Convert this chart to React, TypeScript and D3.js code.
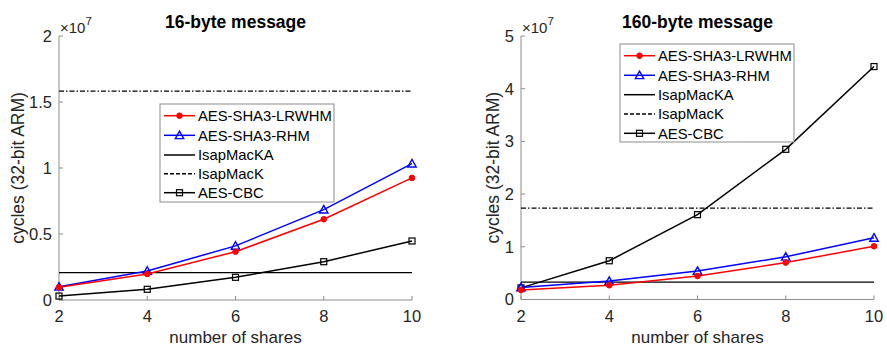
import React from 'react';
import * as d3 from 'd3';

const shares = [2, 4, 6, 8, 10];

// 16-byte message (cycles)
const lrwhm16 = [0.96e6, 1.97e6, 3.66e6, 6.12e6, 9.25e6];
const rhm16 = [1.0e6, 2.2e6, 4.1e6, 6.85e6, 10.33e6];
const isapKA16 = 2.07e6;
const isapK16 = 15.83e6;
const cbc16 = [0.3e6, 0.81e6, 1.72e6, 2.9e6, 4.47e6];

// 160-byte message (cycles)
const lrwhm160 = [1.8e6, 2.7e6, 4.45e6, 7.0e6, 10.1e6];
const rhm160 = [2.3e6, 3.5e6, 5.4e6, 8.1e6, 11.7e6];
const isapKA160 = 3.3e6;
const isapK160 = 17.33e6;
const cbc160 = [2.2e6, 7.35e6, 16.1e6, 28.5e6, 44.2e6];

const yTicks16 = [0, 0.5, 1, 1.5, 2];
const yTicks160 = [0, 1, 2, 3, 4, 5];
const legendNames = ['AES-SHA3-LRWHM', 'AES-SHA3-RHM', 'IsapMacKA', 'IsapMacK', 'AES-CBC'];

const FONT = '"Liberation Sans", Arial, Helvetica, sans-serif';
const INK = '#262626';
const DASHDOT = '5,2,1.5,2';

type PanelProps = {
  title: string;
  x0: number;
  x1: number;
  yTop: number;
  yBottom: number;
  yMax: number;
  yTicks: number[];
  lrwhm: number[];
  rhm: number[];
  isapKA: number;
  isapK: number;
  cbc: number[];
  legend: { x: number; y: number; w: number; h: number; rows: number[] };
  ylabelX: number;
};

function Marker({ kind, x, y, color }: { kind: string; x: number; y: number; color: string }) {
  if (kind === 'circle') return <circle cx={x} cy={y} r={2.8} fill={color} stroke={color} />;
  if (kind === 'triangle') {
    const s = 4.2;
    return (
      <path
        d={`M${x},${y - s}L${x + s},${y + s * 0.8}L${x - s},${y + s * 0.8}Z`}
        fill="none"
        stroke={color}
        strokeWidth={1.4}
      />
    );
  }
  if (kind === 'square') return <rect x={x - 3} y={y - 3} width={6} height={6} fill="none" stroke={color} strokeWidth={1.2} />;
  return null;
}

function Panel(p: PanelProps) {
  const x = d3.scaleLinear().domain([2, 10]).range([p.x0, p.x1]);
  const y = d3.scaleLinear().domain([0, p.yMax]).range([p.yBottom, p.yTop]);
  const line = d3
    .line<number>()
    .x((_, i) => x(shares[i]))
    .y((d) => y(d));

  const series = [
    { name: legendNames[0], data: p.lrwhm, color: '#ff0000', marker: 'circle', dash: undefined as string | undefined },
    { name: legendNames[1], data: p.rhm, color: '#0000ff', marker: 'triangle', dash: undefined },
    { name: legendNames[2], data: null, color: '#000', marker: '', dash: undefined },
    { name: legendNames[3], data: null, color: '#000', marker: '', dash: '4,2' },
    { name: legendNames[4], data: p.cbc, color: '#000', marker: 'square', dash: undefined },
  ];

  const cx = (p.x0 + p.x1) / 2;
  const cy = (p.yTop + p.yBottom) / 2;
  const lg = p.legend;

  return (
    <g fontFamily={FONT}>
      {/* axes */}
      <line x1={p.x0} x2={p.x0} y1={p.yTop} y2={p.yBottom} stroke="#8c8c8c" strokeWidth={1} />
      <line x1={p.x0} x2={p.x1} y1={p.yBottom} y2={p.yBottom} stroke="#8c8c8c" strokeWidth={1} />
      {p.yTicks.map((t) => (
        <g key={'y' + t}>
          <line x1={p.x0} x2={p.x0 + 4} y1={y(t * 1e7)} y2={y(t * 1e7)} stroke="#8c8c8c" />
          <text x={p.x0 - 7} y={y(t * 1e7)} dy="0.36em" textAnchor="end" fontSize={16.5} fill={INK}>
            {t}
          </text>
        </g>
      ))}
      {shares.map((s) => (
        <g key={'x' + s}>
          <line x1={x(s)} x2={x(s)} y1={p.yBottom} y2={p.yBottom - 4} stroke="#8c8c8c" />
          <text x={x(s)} y={p.yBottom + 16.5} textAnchor="middle" dy="0.36em" fontSize={16.5} fill={INK}>
            {s}
          </text>
        </g>
      ))}
      <text x={p.x0 + 1} y={p.yTop - 3} fontSize={15} fill={INK}>
        ×10
        <tspan dy={-8} fontSize={11.5}>7</tspan>
      </text>
      <text x={cx} y={p.yTop - 8} textAnchor="middle" fontSize={17.5} fontWeight="bold" fill="#000">
        {p.title}
      </text>
      <text x={cx} y={p.yBottom + 43} textAnchor="middle" fontSize={17} fill={INK}>
        number of shares
      </text>
      <text
        transform={`translate(${p.ylabelX},${cy}) rotate(-90)`}
        textAnchor="middle"
        dy="0.36em"
        fontSize={17.5}
        fill={INK}
      >
        cycles (32-bit ARM)
      </text>

      {/* constant lines */}
      <line x1={p.x0} x2={p.x1} y1={y(p.isapKA)} y2={y(p.isapKA)} stroke="#000" strokeWidth={1.3} />
      <line x1={p.x0} x2={p.x1} y1={y(p.isapK)} y2={y(p.isapK)} stroke="#000" strokeWidth={1.3} strokeDasharray={DASHDOT} />

      {/* series */}
      {series
        .filter((s) => s.data)
        .slice()
        .reverse()
        .map((s) => (
          <g key={s.name}>
            <path d={line(s.data as number[]) || ''} fill="none" stroke={s.color} strokeWidth={1.5} />
            {(s.data as number[]).map((v, i) => (
              <Marker key={i} kind={s.marker} x={x(shares[i])} y={y(v)} color={s.color} />
            ))}
          </g>
        ))}

      {/* legend */}
      <rect x={lg.x} y={lg.y} width={lg.w} height={lg.h} fill="#fff" stroke="#8c8c8c" strokeWidth={1} />
      {series.map((s, i) => (
        <g key={'lg' + s.name}>
          <line
            x1={lg.x + 4}
            x2={lg.x + 35}
            y1={lg.rows[i]}
            y2={lg.rows[i]}
            stroke={s.color}
            strokeWidth={1.5}
            strokeDasharray={s.dash}
          />
          {s.marker && <Marker kind={s.marker} x={lg.x + 19.5} y={lg.rows[i]} color={s.color} />}
          <text x={lg.x + 38} y={lg.rows[i]} dy="0.36em" fontSize={14.8} fill="#000">
            {s.name}
          </text>
        </g>
      ))}
    </g>
  );
}

export default function App() {
  return (
    <svg width={887} height={347} style={{ position: 'absolute', left: 0, top: 0, background: '#fff' }}>
      <rect width={887} height={347} fill="#fff" />
      <Panel
        title="16-byte message"
        x0={59}
        x1={412}
        yTop={36}
        yBottom={300}
        yMax={2e7}
        yTicks={yTicks16}
        lrwhm={lrwhm16}
        rhm={rhm16}
        isapKA={isapKA16}
        isapK={isapK16}
        cbc={cbc16}
        legend={{ x: 160, y: 104, w: 174, h: 98, rows: [115.7, 135.3, 155, 173.8, 192.7] }}
        ylabelX={18}
      />
      <Panel
        title="160-byte message"
        x0={521}
        x1={874}
        yTop={36}
        yBottom={299.5}
        yMax={5e7}
        yTicks={yTicks160}
        lrwhm={lrwhm160}
        rhm={rhm160}
        isapKA={isapKA160}
        isapK={isapK160}
        cbc={cbc160}
        legend={{ x: 620, y: 44, w: 174, h: 98, rows: [55.7, 75.3, 94.7, 114, 133.3] }}
        ylabelX={493}
      />
    </svg>
  );
}
